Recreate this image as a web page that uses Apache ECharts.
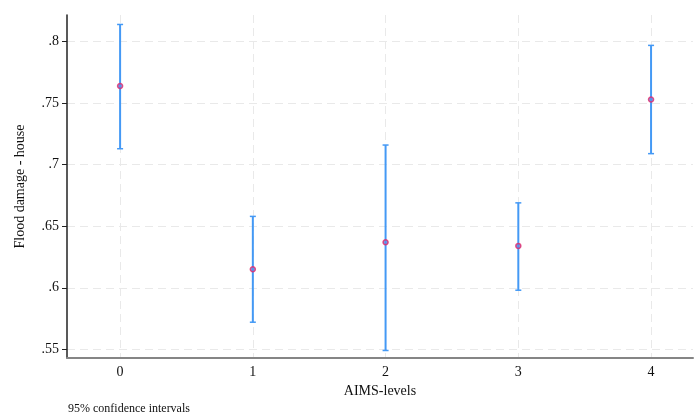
<!DOCTYPE html>
<html><head><meta charset="utf-8">
<script src="https://cdn.jsdelivr.net/npm/echarts@6/dist/echarts.min.js"></script>
<style>html,body{margin:0;padding:0;background:#fff}#c{width:694px;height:414px}</style>
</head><body><div id="c"></div>
<script>
const categories = [0, 1, 2, 3, 4];
const means = [0.764, 0.615, 0.637, 0.634, 0.753];
const lower = [0.713, 0.572, 0.549, 0.598, 0.709];
const upper = [0.814, 0.658, 0.716, 0.669, 0.797];
const yTicks = [0.55, 0.6, 0.65, 0.7, 0.75, 0.8];
const xTicks = [0, 1, 2, 3, 4];
const xTitle = 'AIMS-levels';
const yTitle = 'Flood damage - house';
const note = '95% confidence intervals';

const FONT = '"Liberation Serif", "DejaVu Serif", serif';
const gridLine = {show: true, lineStyle: {color: '#e9e9e9', width: 1, type: [8, 5]}};

const chart = echarts.init(document.getElementById('c'), null, {renderer: 'canvas'});
chart.setOption({
  backgroundColor: '#fff',
  animation: false,
  grid: {left: 67, right: 1, top: 15, bottom: 56, containLabel: false},
  xAxis: {
    type: 'value', min: -0.4, max: 4.316,
    name: xTitle, nameLocation: 'middle', nameGap: 25,
    nameTextStyle: {fontFamily: FONT, fontSize: 14, color: '#111'},
    axisLine: {show: true, onZero: false, lineStyle: {color: '#858585', width: 2}},
    axisTick: {show: false, customValues: xTicks},
    axisLabel: {customValues: xTicks, fontFamily: FONT, fontSize: 14, color: '#111', margin: 7,
      formatter: v => String(Math.round(v))},
    splitLine: gridLine
  },
  yAxis: {
    type: 'value', min: 0.5429, max: 0.8217,
    name: yTitle, nameLocation: 'middle', nameGap: 40,
    nameTextStyle: {fontFamily: FONT, fontSize: 14, color: '#111'},
    axisLine: {show: true, onZero: false, lineStyle: {color: '#222', width: 1.5}},
    axisTick: {show: true, length: 5, customValues: yTicks, lineStyle: {color: '#222', width: 1}},
    axisLabel: {customValues: yTicks, fontFamily: FONT, fontSize: 14, color: '#111', margin: 8,
      formatter: v => String(+(+v).toFixed(2)).replace(/^0/, '')},
    splitLine: gridLine
  },
  graphic: [{
    type: 'text', left: 68, top: 403,
    style: {text: note, font: '12px ' + FONT, fill: '#111'}
  }],
  series: [
    {
      type: 'custom',
      data: categories.map((c, i) => [c, lower[i], upper[i]]),
      renderItem: function (params, api) {
        const x = api.value(0);
        const pLo = api.coord([x, api.value(1)]);
        const pHi = api.coord([x, api.value(2)]);
        const hw = 3;
        const col = '#4499f5';
        return {
          type: 'group',
          children: [
            {type: 'line', shape: {x1: pLo[0], y1: pLo[1], x2: pHi[0], y2: pHi[1]}, style: {stroke: col, lineWidth: 2}},
            {type: 'line', shape: {x1: pLo[0] - hw, y1: pLo[1], x2: pLo[0] + hw, y2: pLo[1]}, style: {stroke: col, lineWidth: 1.5}},
            {type: 'line', shape: {x1: pHi[0] - hw, y1: pHi[1], x2: pHi[0] + hw, y2: pHi[1]}, style: {stroke: col, lineWidth: 1.5}}
          ]
        };
      },
      z: 2
    },
    {
      type: 'scatter',
      data: categories.map((c, i) => [c, means[i]]),
      symbol: 'circle', symbolSize: 5,
      itemStyle: {color: '#5b8ee8', borderColor: '#e3286a', borderWidth: 1.5},
      z: 3
    }
  ]
});
</script>
</body></html>
